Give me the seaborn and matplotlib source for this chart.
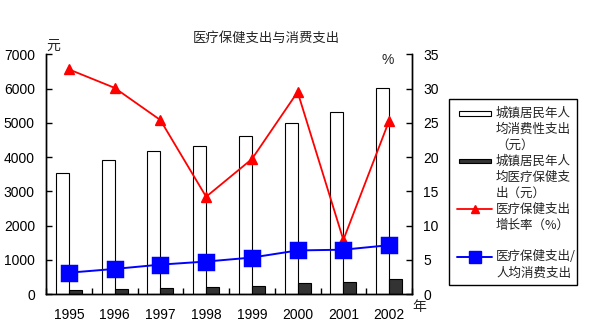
import matplotlib
matplotlib.use("Agg")
import matplotlib.pyplot as plt
from matplotlib.patches import Rectangle
from matplotlib.lines import Line2D
import numpy as np
import pandas as pd
import seaborn as sns

# Urban per-capita spending, 1995-2002
years = ["1995", "1996", "1997", "1998", "1999", "2000", "2001", "2002"]
consumption = [3537.57, 3919.47, 4185.64, 4331.61, 4615.91, 4998.00, 5309.01, 6029.88]
medical = [110.11, 143.28, 179.68, 205.16, 245.59, 318.07, 343.28, 430.08]
growth_pct = [32.8, 30.1, 25.4, 14.2, 19.7, 29.5, 7.9, 25.3]
share_pct = [3.11, 3.66, 4.29, 4.74, 5.32, 6.36, 6.47, 7.13]

left_ticks = [0, 1000, 2000, 3000, 4000, 5000, 6000, 7000]
right_ticks = [0, 5, 10, 15, 20, 25, 30, 35]

lab_cons = ["城镇居民年人", "均消费性支出", "（元）"]
lab_med = ["城镇居民年人", "均医疗保健支", "出（元）"]
lab_growth = ["医疗保健支出", "增长率（%）"]
lab_share = ["医疗保健支出/", "人均消费支出"]

W, H = 590, 336


def fx(x):
    return x / W


def fy(y):
    return 1 - y / H


sns.set_theme(style="white")
plt.rcParams["font.family"] = ["Liberation Sans", "Noto Sans CJK SC", "DejaVu Sans"]
cjk = ["Noto Sans CJK SC", "DejaVu Sans"]

bars = pd.DataFrame({
    "year": years * 2,
    "value": consumption + medical,
    "series": ["consumption"] * len(years) + ["medical"] * len(years),
})

fig = plt.figure(figsize=(W / 100, H / 100), dpi=100)
ax = fig.add_axes([fx(46), fy(294), 366 / W, (294 - 54.3) / H])

sns.barplot(data=bars, x="year", y="value", hue="series", order=years,
            hue_order=["consumption", "medical"],
            palette={"consumption": "white", "medical": "#333333"},
            edgecolor="black", linewidth=0.8, width=0.57, gap=0,
            legend=False, ax=ax)

ax2 = ax.twinx()
sns.pointplot(x=years, y=growth_pct, order=years, color="#ff0000", marker="^",
              markersize=7, linewidth=1.3, ax=ax2)
sns.pointplot(x=years, y=share_pct, order=years, color="#0000ff", marker="s",
              markersize=11, linewidth=1.4, ax=ax2)

for a in (ax, ax2):
    a.set_xlim(-0.5, len(years) - 0.5)
    a.set_xlabel("")
    a.set_ylabel("")
    a.spines["top"].set_visible(False)
    for s in a.spines.values():
        s.set_color("black")
        s.set_linewidth(1.0)

ax.set_ylim(0, 7000)
ax.set_yticks(left_ticks)
ax2.set_ylim(0, 35)
ax2.set_yticks(right_ticks)

ax.tick_params(axis="y", direction="in", length=4, width=1, color="black",
               labelsize=10, pad=8, labelcolor="black")
ax2.tick_params(axis="y", direction="in", length=4, width=1, color="black",
                labelsize=10, pad=8, labelcolor="black", right=True, left=False)
ax.tick_params(axis="x", which="major", length=0, labelsize=10, pad=10, labelcolor="black")
ax.set_xticks(np.arange(-0.5, len(years) + 0.5, 1.0), minor=True)
ax.tick_params(axis="x", which="minor", direction="in", length=4, width=1,
               color="black", bottom=True)
ax2.tick_params(axis="x", which="both", length=0)

fig.text(fx(266), fy(38), "医疗保健支出与消费支出", ha="center", va="center",
         fontsize=9.6, family=cjk)
fig.text(fx(53), fy(46), "元", ha="center", va="center", fontsize=10, family=cjk)
fig.text(fx(388), fy(60), "%", ha="center", va="center", fontsize=10)
fig.text(fx(419), fy(307), "年", ha="center", va="center", fontsize=10, family=cjk)

# Legend box: each text line sits on a 16 px grid, handle beside the first line
fig.add_artist(Rectangle((fx(449), fy(285)), fx(577) - fx(449), fy(99) - fy(285),
                         transform=fig.transFigure, facecolor="white",
                         edgecolor="black", linewidth=1.0, zorder=5))

entries = [(lab_cons, 0, "white_patch"), (lab_med, 3, "dark_patch"),
           (lab_growth, 6, "red_line"), (lab_share, 9, "blue_line")]
first_line_y = 113
pitch = 16
for lines, row, kind in entries:
    y0 = first_line_y + row * pitch
    for i, line in enumerate(lines):
        fig.text(fx(496), fy(y0 + i * pitch), line, ha="left", va="center",
                 fontsize=9, family=cjk, color="#222222", zorder=6)
    if kind in ("white_patch", "dark_patch"):
        face = "white" if kind == "white_patch" else "#333333"
        fig.add_artist(Rectangle((fx(459), fy(y0 + 2.5)), fx(491) - fx(459), 5 / H,
                                 transform=fig.transFigure, facecolor=face,
                                 edgecolor="black", linewidth=0.8, zorder=6))
    else:
        color = "#ff0000" if kind == "red_line" else "#0000ff"
        marker = "^" if kind == "red_line" else "s"
        ms = 6 if kind == "red_line" else 8
        lw = 1.3 if kind == "red_line" else 1.4
        fig.add_artist(Line2D([fx(457), fx(491.5)], [fy(y0), fy(y0)],
                              transform=fig.transFigure, color=color,
                              linewidth=lw, zorder=6))
        fig.add_artist(Line2D([fx(474.5)], [fy(y0)], transform=fig.transFigure,
                              color=color, marker=marker, markersize=ms,
                              linestyle="none", zorder=7))

fig.savefig("out.png", dpi=100, facecolor="white")
